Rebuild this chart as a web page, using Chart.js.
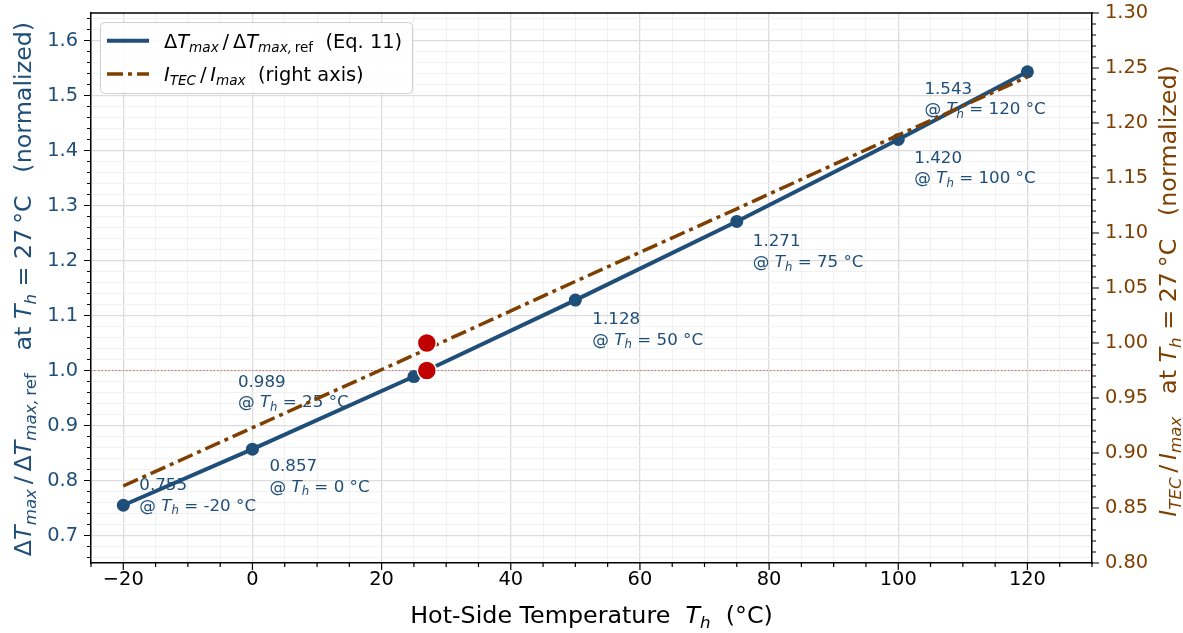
<!DOCTYPE html>
<html>
<head>
<meta charset="utf-8">
<script src="https://cdn.jsdelivr.net/npm/chart.js@4.4.1/dist/chart.umd.min.js"></script>
<style>
  html, body { margin: 0; padding: 0; background: #fff; }
  #wrap { width: 1183px; height: 633px; position: relative; }
</style>
</head>
<body>
<div id="wrap"><canvas id="chart"></canvas></div>
<script>
// ------------------------------------------------------------
// data
// ------------------------------------------------------------
const hotSideTemp  = [-20, 0, 25, 50, 75, 100, 120];
const dtMaxRatio   = [0.755, 0.857, 0.989, 1.128, 1.271, 1.420, 1.543];
const currentRatio = [0.870, 0.923, 0.989, 1.056, 1.122, 1.189, 1.242];
const refTemp  = [27];
const refRatio = [1.0];

// axes
const xRange      = [-25, 130];
const yLeftRange  = [0.65, 1.65];
const yRightRange = [0.80, 1.30];
const xMajor      = [-20, 0, 20, 40, 60, 80, 100, 120];
const yLeftMajor  = [0.7, 0.8, 0.9, 1.0, 1.1, 1.2, 1.3, 1.4, 1.5, 1.6];
const yRightMajor = [0.80, 0.85, 0.90, 0.95, 1.00, 1.05, 1.10, 1.15, 1.20, 1.25, 1.30];
const xMinorStep = 5, yLeftMinorStep = 0.02, yRightMinorStep = 0.01;

// where each point label sits (px from the point: left edge, first line centre)
const labelOffsets = [[16, -21], [17, 16], [-176, 4], [17, 18], [16, 19], [16, 17], [-103, 16]];

const BLUE = '#1f4e79', BROWN = '#7f3f00', RED = '#c00000';
const FONT = '"DejaVu Sans", sans-serif';
const DASHDOT = [16, 5, 4, 5];
const TITLE_SIZE = 23.8;

function stepList(min, max, step) {
  const out = [];
  let v = Math.ceil(min / step - 1e-9) * step;
  while (v <= max + 1e-9) { out.push(Math.round(v * 1e6) / 1e6); v += step; }
  return out;
}
const isIn = (v, list) => list.some(m => Math.abs(m - v) < 1e-6);

const xTickList  = stepList(xRange[0], xRange[1], xMinorStep);
const yLTickList = stepList(yLeftRange[0], yLeftRange[1], yLeftMinorStep);
const yRTickList = stepList(yRightRange[0], yRightRange[1], yRightMinorStep);

// ------------------------------------------------------------
// small rich-text helper (italic / subscript runs)
// ------------------------------------------------------------
function segFont(st, size) {
  const sub = st[0] === 's';
  const it = st[st.length - 1] === 'i';
  return (it ? 'italic ' : '') + (sub ? size * 0.7 : size) + 'px ' + FONT;
}
function richWidth(ctx, segs, size) {
  let w = 0;
  segs.forEach(([t, st]) => { ctx.font = segFont(st, size); w += ctx.measureText(t).width; });
  return w;
}
function drawRich(ctx, segs, x, y, size, color, align) {
  ctx.save();
  ctx.fillStyle = color;
  ctx.textBaseline = 'alphabetic';
  ctx.textAlign = 'left';
  const w = richWidth(ctx, segs, size);
  let cx = align === 'center' ? x - w / 2 : align === 'right' ? x - w : x;
  segs.forEach(([t, st]) => {
    ctx.font = segFont(st, size);
    ctx.fillText(t, cx, y + (st[0] === 's' ? size * 0.22 : 0));
    cx += ctx.measureText(t).width;
  });
  ctx.restore();
}

const leftTitle = [['Δ', 'n'], ['T', 'i'], ['max', 'si'], ['\u2009/\u2009', 'n'], ['Δ', 'n'], ['T', 'i'], ['max,\u2009', 'si'], ['ref', 's'],
  ['   at ', 'n'], ['T', 'i'], ['h', 'si'], [' = 27\u2009°C   (normalized)', 'n']];
const rightTitle = [['I', 'i'], ['TEC', 'si'], ['\u2009/\u2009', 'n'], ['I', 'i'], ['max', 'si'],
  ['   at ', 'n'], ['T', 'i'], ['h', 'si'], [' = 27\u2009°C   (normalized)', 'n']];
const xTitle = [['Hot-Side Temperature  ', 'n'], ['T', 'i'], ['h', 'si'], ['  (°C)', 'n']];
const legendRows = [
  { color: BLUE, width: 4, dash: [], segs: [['Δ', 'n'], ['T', 'i'], ['max', 'si'], ['\u2009/\u2009', 'n'], ['Δ', 'n'], ['T', 'i'], ['max,\u2009', 'si'], ['ref', 's'], ['  (Eq. 11)', 'n']] },
  { color: BROWN, width: 3.5, dash: DASHDOT, segs: [['I', 'i'], ['TEC', 'si'], ['\u2009/\u2009', 'n'], ['I', 'i'], ['max', 'si'], ['  (right axis)', 'n']] }
];

// ------------------------------------------------------------
// plugin: ref line, point labels, ticks, titles, legend
// ------------------------------------------------------------
const decor = {
  id: 'decor',
  beforeDatasetsDraw(chart) {
    const { ctx, chartArea: a, scales } = chart;
    // dotted reference line at 1.0
    const yr = scales.y.getPixelForValue(refRatio[0]);
    ctx.save();
    ctx.strokeStyle = 'rgba(205,70,70,0.7)';
    ctx.lineWidth = 1;
    ctx.setLineDash([1.5, 2]);
    ctx.beginPath(); ctx.moveTo(a.left, yr); ctx.lineTo(a.right, yr); ctx.stroke();
    ctx.restore();
    // point labels
    const fs = 16.7;
    hotSideTemp.forEach((t, i) => {
      const px = scales.x.getPixelForValue(t);
      const py = scales.y.getPixelForValue(dtMaxRatio[i]);
      const [dx, dy] = labelOffsets[i];
      const base = py + dy + fs * 0.36;
      drawRich(ctx, [[dtMaxRatio[i].toFixed(3), 'n']], px + dx, base, fs, BLUE, 'left');
      drawRich(ctx, [['@ ', 'n'], ['T', 'i'], ['h', 'si'], [' = ' + t + ' °C', 'n']], px + dx, base + 20.5, fs, BLUE, 'left');
    });
  },
  afterDraw(chart) {
    const { ctx, chartArea: a, scales } = chart;
    ctx.save();
    // top spine
    ctx.strokeStyle = '#000'; ctx.lineWidth = 1.5;
    ctx.beginPath(); ctx.moveTo(a.left - 0.75, a.top); ctx.lineTo(a.right + 0.75, a.top); ctx.stroke();
    // tick marks
    ctx.lineWidth = 1.2;
    ctx.beginPath();
    xTickList.forEach(v => {
      const p = scales.x.getPixelForValue(v), l = isIn(v, xMajor) ? 7 : 4;
      ctx.moveTo(p, a.bottom); ctx.lineTo(p, a.bottom + l);
    });
    yLTickList.forEach(v => {
      const p = scales.y.getPixelForValue(v), l = isIn(v, yLeftMajor) ? 7 : 4;
      ctx.moveTo(a.left - l, p); ctx.lineTo(a.left, p);
    });
    yRTickList.forEach(v => {
      const p = scales.y2.getPixelForValue(v), l = isIn(v, yRightMajor) ? 7 : 4;
      ctx.moveTo(a.right, p); ctx.lineTo(a.right + l, p);
    });
    ctx.stroke();
    ctx.restore();

    // axis titles
    const midY = (a.top + a.bottom) / 2;
    drawRich(ctx, xTitle, (a.left + a.right) / 2, 623, TITLE_SIZE, '#000', 'center');
    ctx.save(); ctx.translate(31, midY + 1); ctx.rotate(-Math.PI / 2);
    drawRich(ctx, leftTitle, 0, 0, TITLE_SIZE, BLUE, 'center');
    ctx.restore();
    ctx.save(); ctx.translate(1176, midY + 3); ctx.rotate(-Math.PI / 2);
    drawRich(ctx, rightTitle, 0, 0, TITLE_SIZE, BROWN, 'center');
    ctx.restore();

    // legend
    ctx.save();
    ctx.fillStyle = 'rgba(255,255,255,0.85)';
    ctx.strokeStyle = '#cfcfcf';
    ctx.lineWidth = 1;
    ctx.beginPath(); ctx.roundRect(100.5, 22.5, 312, 71, 4); ctx.fill(); ctx.stroke();
    legendRows.forEach((r, i) => {
      const cy = 40.7 + i * 33.3;
      ctx.strokeStyle = r.color; ctx.lineWidth = r.width; ctx.setLineDash(r.dash); ctx.lineCap = 'butt';
      ctx.beginPath(); ctx.moveTo(107, cy); ctx.lineTo(149, cy); ctx.stroke();
      drawRich(ctx, r.segs, 164, cy + 19.4 * 0.36, 19.4, '#000', 'left');
    });
    ctx.restore();
  }
};

function gridColor(list) {
  return c => (c.tick && isIn(c.tick.value, list)) ? '#dcdcdc' : '#f1f1f1';
}
function gridWidth(list) {
  return c => (c.tick && isIn(c.tick.value, list)) ? 1.3 : 1;
}
function noPad(s) {
  s.paddingTop = 0; s.paddingBottom = 0; s.paddingLeft = 0; s.paddingRight = 0;
}

new Chart(document.getElementById('chart'), {
  type: 'line',
  data: {
    datasets: [
      { label: 'ref left', data: [{ x: refTemp[0], y: refRatio[0] }], yAxisID: 'y', showLine: false,
        pointRadius: 9.5, pointBackgroundColor: RED, pointBorderColor: '#fff', pointBorderWidth: 1.5, order: 0 },
      { label: 'ref right', data: [{ x: refTemp[0], y: refRatio[0] }], yAxisID: 'y2', showLine: false,
        pointRadius: 9.5, pointBackgroundColor: RED, pointBorderColor: '#fff', pointBorderWidth: 1.5, order: 1 },
      { label: 'I_TEC / I_max', data: hotSideTemp.map((t, i) => ({ x: t, y: currentRatio[i] })), yAxisID: 'y2',
        borderColor: BROWN, borderWidth: 3.5, borderDash: DASHDOT, borderCapStyle: 'butt', pointRadius: 0, tension: 0, order: 2 },
      { label: 'dTmax / dTmax,ref', data: hotSideTemp.map((t, i) => ({ x: t, y: dtMaxRatio[i] })), yAxisID: 'y',
        borderColor: BLUE, borderWidth: 4, pointRadius: 6.5, pointBackgroundColor: BLUE, pointBorderWidth: 0, tension: 0, order: 3 }
    ]
  },
  options: {
    responsive: true,
    maintainAspectRatio: false,
    animation: false,
    events: [],
    layout: { padding: { top: 13, left: 0, right: 0, bottom: 0 } },
    plugins: { legend: { display: false }, tooltip: { enabled: false } },
    scales: {
      x: {
        type: 'linear', min: xRange[0], max: xRange[1],
        afterBuildTicks: s => { s.ticks = xTickList.map(v => ({ value: v })); },
        afterFit: s => { s.height = 70; noPad(s); },
        ticks: { autoSkip: false, maxRotation: 0, padding: 5, color: '#000', font: { family: FONT, size: 19.4 },
          callback: v => isIn(v, xMajor) ? String(v).replace('-', '−') : '' },
        grid: { drawTicks: false, color: gridColor(xMajor), lineWidth: gridWidth(xMajor) },
        border: { color: '#000', width: 1.5 }
      },
      y: {
        position: 'left', min: yLeftRange[0], max: yLeftRange[1],
        afterBuildTicks: s => { s.ticks = yLTickList.map(v => ({ value: v })); },
        afterFit: s => { s.width = 91; noPad(s); },
        ticks: { autoSkip: false, padding: 13, color: BLUE, font: { family: FONT, size: 19.4 },
          callback: v => isIn(v, yLeftMajor) ? v.toFixed(1) : '' },
        grid: { drawTicks: false, color: gridColor(yLeftMajor), lineWidth: gridWidth(yLeftMajor) },
        border: { color: '#000', width: 1.5 }
      },
      y2: {
        position: 'right', min: yRightRange[0], max: yRightRange[1],
        afterBuildTicks: s => { s.ticks = yRTickList.map(v => ({ value: v })); },
        afterFit: s => { s.width = 91; noPad(s); },
        ticks: { autoSkip: false, padding: 13, color: BROWN, font: { family: FONT, size: 19.4 },
          callback: v => isIn(v, yRightMajor) ? v.toFixed(2) : '' },
        grid: { drawTicks: false, drawOnChartArea: false },
        border: { color: '#000', width: 1.5 }
      }
    }
  },
  plugins: [decor]
});
</script>
</body>
</html>
